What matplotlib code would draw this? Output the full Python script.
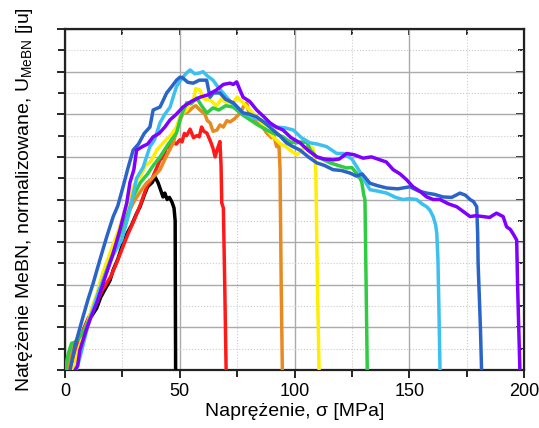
import matplotlib
matplotlib.use('Agg')
import matplotlib.pyplot as plt
from matplotlib.ticker import MultipleLocator, NullFormatter

plt.rcParams['font.family'] = ['Liberation Sans', 'DejaVu Sans']

# stress [MPa] / normalized MeBN intensity (grid units)
black_x = [3, 5, 6.5, 8, 10, 12, 13.8, 15.5, 17, 19.6, 21, 23, 25.3, 27, 29, 31, 32.7, 34.5, 36, 38, 39.2, 40.5, 41.5, 42.7, 43.5, 44.5, 45.5, 46.6, 47.5, 48, 48.1, 48.2]
black_y = [0, 0.35, 0.7, 0.9, 1.15, 1.3, 1.45, 1.7, 1.85, 2.1, 2.35, 2.6, 2.98, 3.2, 3.4, 3.65, 3.83, 4.1, 4.3, 4.4, 4.53, 4.4, 4.25, 4.06, 4.15, 4.0, 4.05, 3.94, 3.8, 3.5, 1.5, 0]

red_x = [2.9, 4.5, 6, 8, 10, 12, 14, 16, 18.2, 20, 22, 23.5, 25.3, 27.5, 30, 33, 35.6, 38, 40, 41.4, 43, 44, 45.5, 47, 48.5, 50, 51, 52, 53, 54.5, 56, 57.5, 58.5, 59.5, 60.5, 61.8, 63.5, 64.5, 65.4, 66.5, 67.5, 68.0, 68.3, 69.0, 69.6, 70.2]
red_y = [0, 0.35, 0.6, 0.95, 1.2, 1.4, 1.6, 1.85, 2.04, 2.2, 2.45, 2.65, 2.9, 3.2, 3.5, 3.9, 4.3, 4.5, 4.75, 4.93, 5.0, 5.2, 5.25, 5.35, 5.3, 5.4, 5.35, 5.55, 5.5, 5.65, 5.45, 5.5, 5.47, 5.7, 5.6, 5.56, 5.35, 5.2, 5.0, 5.2, 5.36, 4.8, 3.92, 3.8, 2.0, 0]

orange_x = [1, 3, 5, 8, 10, 12.3, 14, 16, 19, 22.5, 26, 30, 33, 35.6, 38, 41.4, 44, 47.2, 49, 51.4, 53.5, 55.9, 57, 58.8, 61, 62, 63.2, 64.5, 66.2, 67.5, 69, 70.5, 71.9, 74, 76.3, 78, 79.2, 80, 81, 83.5, 85.5, 87.9, 90, 91, 92.2, 93.2, 93.7, 94.2, 94.7]
orange_y = [0, 0.55, 0.7, 0.9, 1.15, 1.4, 1.7, 2.0, 2.6, 3.13, 3.5, 3.95, 4.2, 4.39, 4.5, 4.7, 5.0, 5.33, 5.7, 6.03, 6.05, 6.17, 6.2, 6.1, 6.0, 5.85, 5.8, 5.6, 5.63, 5.75, 5.7, 5.85, 5.82, 5.9, 6.03, 6.2, 6.27, 6.05, 6.0, 5.8, 5.75, 5.56, 5.45, 5.5, 5.24, 5.3, 4.7, 2.0, 0]

yellow_x = [3.5, 5, 6, 7.5, 9, 12, 14, 16, 20, 23.5, 27, 29, 31.2, 33, 35, 37.5, 40, 44, 46, 48.6, 50.5, 53, 55, 56, 57, 58.8, 60, 61, 63.2, 66, 68, 70.4, 73.3, 75, 77.6, 80.5, 83.5, 87, 90.7, 94, 96, 98, 101, 104, 106.7, 108, 108.9, 109.3, 110.0, 110.7]
yellow_y = [0, 0.3, 0.5, 0.75, 0.95, 1.5, 1.8, 2.2, 2.8, 3.3, 3.9, 4.2, 4.46, 4.55, 4.8, 4.9, 5.16, 5.4, 5.5, 5.7, 6.0, 6.1, 6.3, 6.35, 6.6, 6.57, 6.4, 6.35, 6.34, 6.2, 6.35, 6.27, 6.27, 6.4, 6.27, 6.1, 5.94, 5.7, 5.47, 5.3, 5.25, 5.16, 5.05, 5.2, 5.24, 5.2, 5.0, 4.6, 2.0, 0]

green_x = [0, 1.5, 2.9, 4.5, 6.5, 9, 12.3, 15, 18.2, 21, 24, 27, 29.7, 32.7, 36, 38.5, 41.4, 45, 48.6, 50.5, 53, 55, 57.4, 59.5, 61.8, 64.5, 67, 70, 73.3, 77, 80.6, 84, 87.9, 91, 95, 98, 100.9, 103, 105.3, 107, 109.7, 112, 115.5, 119, 122.7, 125, 127, 128.5, 129.3, 130.2, 130.7, 131.2, 131.7]
green_y = [0, 0.4, 0.63, 0.65, 0.78, 1.0, 1.4, 1.85, 2.35, 2.75, 3.2, 3.6, 4.06, 4.39, 4.6, 4.8, 5.0, 5.3, 5.56, 5.95, 6.27, 6.25, 6.38, 6.2, 6.03, 6.15, 6.1, 6.2, 6.17, 6.0, 5.87, 5.75, 5.63, 5.55, 5.47, 5.35, 5.33, 5.35, 5.34, 5.15, 5.0, 4.95, 4.86, 4.8, 4.74, 4.75, 4.62, 4.5, 4.41, 4.1, 4.0, 2.0, 0]

sky_x = [5, 7, 9.5, 12, 15, 18, 21, 24.7, 28, 31.2, 34, 37, 39, 41.4, 43.5, 45.8, 47.1, 48.6, 51, 53, 54.5, 56.5, 58.8, 60.1, 62, 64.5, 66.5, 68.9, 72, 74.8, 77.6, 81, 85, 88, 92.2, 96, 99.5, 103, 106.7, 110, 114, 118.4, 121.2, 125, 128.5, 130.5, 132.9, 136, 140.2, 144, 147.3, 150, 153.2, 155.5, 157.6, 159, 160.4, 161.5, 162, 162.5, 162.9, 163.4]
sky_y = [0, 0.4, 0.94, 1.4, 1.9, 2.3, 2.7, 3.05, 3.7, 4.5, 4.75, 5.24, 5.4, 5.8, 6.0, 6.17, 6.4, 6.65, 6.85, 6.97, 7.04, 6.95, 6.97, 7.0, 6.9, 6.8, 6.65, 6.5, 6.3, 6.17, 6.03, 5.95, 5.87, 5.8, 5.7, 5.68, 5.63, 5.45, 5.33, 5.3, 5.24, 5.08, 5.08, 4.95, 4.65, 4.45, 4.23, 4.2, 4.15, 4.05, 4.0, 4.02, 4.0, 3.9, 3.83, 3.75, 3.6, 3.4, 3.2, 2.58, 1.5, 0]

blue_x = [2.2, 4.5, 7.8, 10, 12.3, 15, 18.2, 21, 23, 25.3, 27.5, 29.7, 32, 34.5, 37, 38.4, 41.4, 44.3, 46.5, 48.6, 50.1, 51.4, 53.5, 55.9, 58.5, 61.7, 63.2, 64.6, 67.5, 70, 73.3, 77.6, 80.5, 83.5, 87, 90.7, 93.5, 96.5, 99, 102.4, 106, 109.7, 113, 116.8, 120.5, 124.2, 127, 129.5, 132.9, 136.5, 140.2, 145, 150.3, 154, 157.6, 161, 164.7, 168.5, 172.1, 174.5, 176.5, 178, 179.4, 179.8, 180.0, 181.0, 181.5]
blue_y = [0, 0.6, 1.24, 1.65, 2.04, 2.55, 3.13, 3.6, 3.85, 4.3, 4.75, 5.16, 5.3, 5.55, 5.7, 6.1, 6.17, 6.5, 6.65, 6.8, 6.87, 6.85, 6.75, 6.73, 6.8, 6.8, 6.4, 6.5, 6.5, 6.35, 6.27, 6.03, 6.0, 5.94, 5.8, 5.63, 5.5, 5.33, 5.25, 5.16, 5.0, 4.86, 4.8, 4.7, 4.68, 4.62, 4.55, 4.6, 4.38, 4.32, 4.27, 4.25, 4.3, 4.2, 4.15, 4.12, 4.06, 4.05, 4.15, 4.1, 4.0, 3.95, 3.83, 3.2, 2.5, 1.0, 0]

purple_x = [4.4, 5.5, 6.5, 9, 11, 13.8, 17, 21, 24, 26.9, 28.3, 30, 31.2, 34, 36, 38.4, 41, 43.5, 45.8, 48.5, 51.4, 55, 58.8, 62, 66, 69, 71.9, 73.3, 74.8, 76, 77.6, 80.5, 83.5, 86.5, 89.3, 92, 95, 98.5, 102.4, 106, 109.7, 113, 116.8, 119.5, 122.7, 126, 129.9, 133.5, 137.3, 140, 143, 146, 148.9, 151.6, 154.5, 157.6, 160.5, 163.4, 167, 170.7, 173.5, 176.5, 179, 182.1, 185, 188, 190.9, 192.4, 194, 195.2, 196.8, 197.2, 197.7, 198.2]
purple_y = [0, 0.1, 0.47, 0.9, 1.2, 1.57, 2.1, 2.74, 3.3, 3.92, 4.4, 4.7, 5.16, 5.25, 5.3, 5.47, 5.55, 5.7, 5.87, 6.0, 6.17, 6.3, 6.4, 6.45, 6.57, 6.7, 6.73, 6.7, 6.76, 6.6, 6.4, 6.3, 6.1, 5.95, 5.8, 5.7, 5.63, 5.45, 5.33, 5.15, 5.0, 4.95, 4.93, 4.95, 5.08, 5.05, 4.97, 5.0, 4.93, 4.88, 4.7, 4.6, 4.46, 4.3, 4.2, 4.06, 4.0, 4.0, 3.9, 3.83, 3.72, 3.6, 3.62, 3.6, 3.58, 3.68, 3.6, 3.36, 3.3, 3.2, 3.05, 2.0, 1.0, 0]

curves = [
    (black_x, black_y, 'black'),
    (red_x, red_y, '#ff1a1a'),
    (orange_x, orange_y, '#e88a20'),
    (yellow_x, yellow_y, '#ffee00'),
    (green_x, green_y, '#2ecc40'),
    (sky_x, sky_y, '#3cc0f0'),
    (blue_x, blue_y, '#2a64c8'),
    (purple_x, purple_y, '#8000ff'),
]

fig = plt.figure(figsize=(5.39, 4.28), dpi=100)
ax = fig.add_axes([0.1206, 0.1355, 0.8516, 0.7967])

for xs, ys, c in curves:
    ax.plot(xs, ys, color=c, lw=2.5, zorder=3)

ax.set_xlim(0, 200)
ax.set_ylim(0, 8)
ax.xaxis.set_major_locator(MultipleLocator(50))
ax.xaxis.set_minor_locator(MultipleLocator(25))
ax.yaxis.set_major_locator(MultipleLocator(1))
ax.yaxis.set_minor_locator(MultipleLocator(0.5))
ax.yaxis.set_major_formatter(NullFormatter())

ax.grid(which='major', color='#aaaaaa', lw=1.0, zorder=0)
ax.grid(which='minor', color='#cccccc', lw=0.8, ls=':', zorder=0)

# bottom/left ticks point out
ax.tick_params(which='both', direction='out', labelsize=13, width=1.2)
ax.tick_params(which='major', length=6)
ax.tick_params(which='minor', length=5)

# top/right ticks point in
top = ax.secondary_xaxis('top')
top.xaxis.set_major_locator(MultipleLocator(50))
top.xaxis.set_minor_locator(MultipleLocator(25))
top.tick_params(which='both', direction='in', labeltop=False, width=1.2, length=4)
right = ax.secondary_yaxis('right')
right.yaxis.set_major_locator(MultipleLocator(1))
right.yaxis.set_minor_locator(MultipleLocator(0.5))
right.tick_params(which='both', direction='in', labelright=False, width=1.2)
right.tick_params(which='major', length=6)
right.tick_params(which='minor', length=4)

for s in ax.spines.values():
    s.set_linewidth(1.6)
    s.set_color('#222222')

ax.set_xlabel('Naprężenie, σ [MPa]', fontsize=14, labelpad=2)
ax.set_ylabel('Natężenie MeBN, normalizowane, U$_{\\mathregular{MeBN}}$ [ju]', fontsize=14, labelpad=12)

plt.savefig('out.png', dpi=100)
